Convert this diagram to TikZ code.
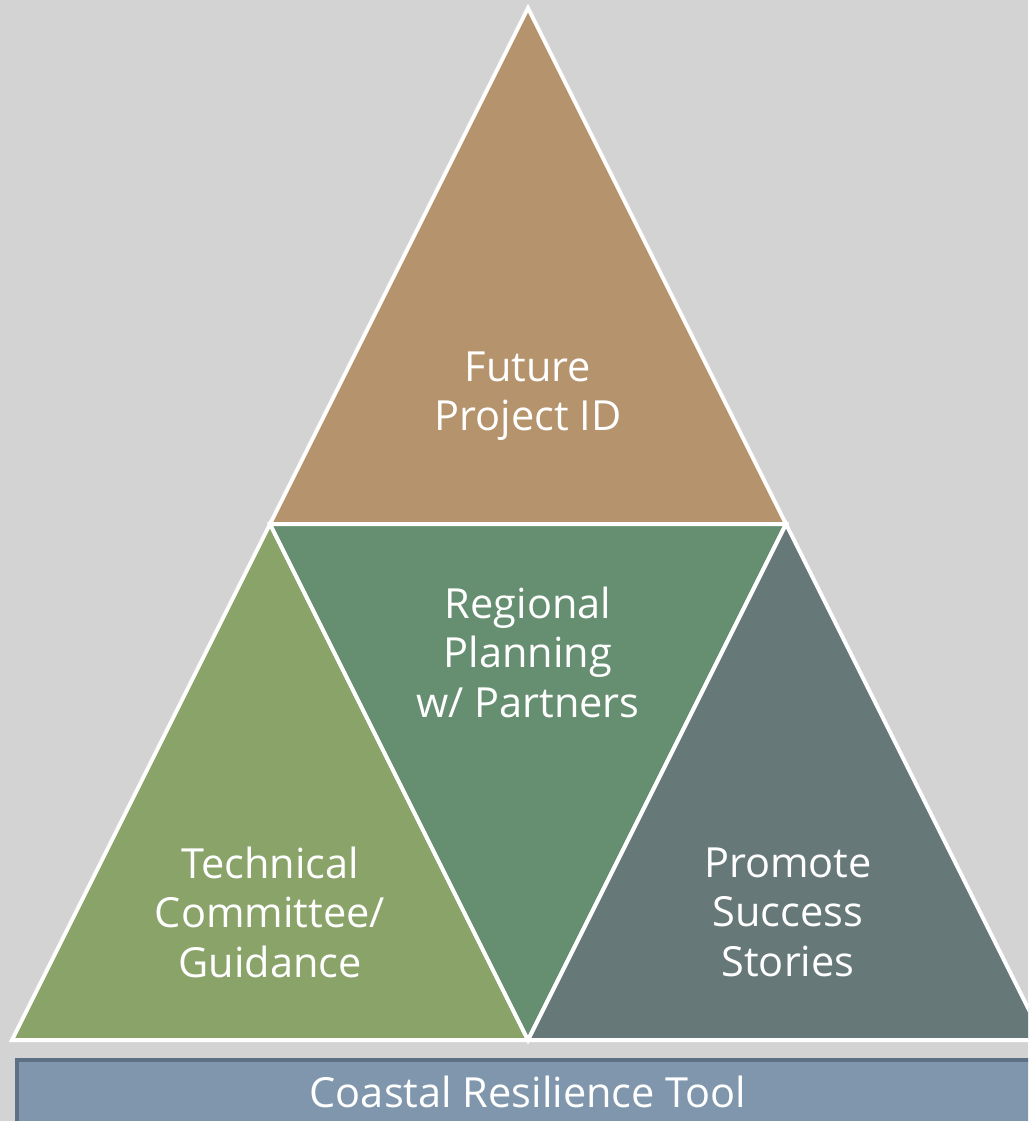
\documentclass[tikz,border=0pt]{standalone}
\usepackage{fontspec}
\setmainfont{Open Sans}
\definecolor{canvas}{RGB}{211,211,211}
\definecolor{tan}{RGB}{181,147,108}
\definecolor{leafgreen}{RGB}{138,163,105}
\definecolor{seagreen}{RGB}{101,143,112}
\definecolor{slate}{RGB}{102,120,120}
\definecolor{barfill}{RGB}{127,150,173}
\definecolor{barline}{RGB}{94,113,132}
\begin{document}
\begin{tikzpicture}[x=1pt,y=-1pt,
  facet/.style={draw=white,line width=4pt,line join=miter},
  label/.style={text=white,align=center,font=\fontsize{41.5}{49.5}\selectfont}]
\useasboundingbox (0,0) rectangle (1028,1121);
\clip (0,0) rectangle (1028,1121);
\fill[canvas] (0,0) rectangle (1028,1121);
% corner points of the pyramid
\coordinate (A) at (528,8);
\coordinate (B) at (270,524);
\coordinate (C) at (786,524);
\coordinate (D) at (12,1040);
\coordinate (E) at (528,1040);
\coordinate (F) at (1044,1040);
% four facets
\filldraw[facet,fill=tan] (A) -- (B) -- (C) -- cycle;
\filldraw[facet,fill=leafgreen] (B) -- (D) -- (E) -- cycle;
\filldraw[facet,fill=seagreen] (B) -- (C) -- (E) -- cycle;
\filldraw[facet,fill=slate] (C) -- (E) -- (F) -- cycle;
% base bar
\filldraw[draw=barline,fill=barfill,line width=4pt] (17,1060) rectangle (1050,1135);
% labels
\node[label] (future) at (528,396) {Future\\Project ID};
\node[label] (regional) at (528,652) {Regional\\Planning\\w/ Partners};
\node[label] (technical) at (270,912) {Technical\\Committee/\\Guidance};
\node[label] (promote) at (788,912) {Promote\\Success\\Stories};
\node[label] (tool) at (528,1092) {Coastal Resilience Tool};
\end{tikzpicture}
\end{document}
